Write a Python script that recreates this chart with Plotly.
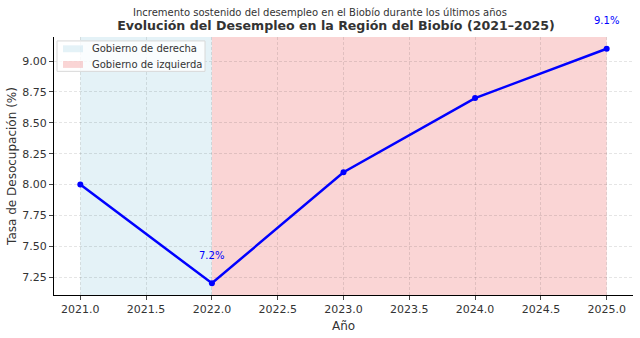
import plotly.graph_objects as go

years = [2021, 2022, 2023, 2024, 2025]
desempleo = [8.0, 7.2, 8.1, 8.7, 9.1]
label_years = [2022, 2025]
label_vals = [7.2, 9.1]

periodos = [
    {"name": "Gobierno de derecha", "x0": 2021, "x1": 2022, "color": "rgba(173,216,230,0.33)"},
    {"name": "Gobierno de izquierda", "x0": 2022, "x1": 2025, "color": "rgba(240,128,128,0.33)"},
]

font = "DejaVu Sans"
txt = "#333"
y_range = [7.105, 9.195]
W, H = 640, 338
ML, MR, MT, MB = 54, 7, 37, 38
pw, ph = W - ML - MR, H - MT - MB


def px(x):
    return (x - ML) / pw


def py(y):
    return (H - MB - y) / ph


fig = go.Figure()

shapes = []
for p in periodos:
    shapes.append(dict(type="rect", xref="x", yref="y domain", x0=p["x0"], x1=p["x1"], y0=0, y1=1,
                       fillcolor=p["color"], line=dict(width=0), layer="below"))

fig.add_trace(go.Scatter(x=years, y=desempleo, mode="lines+markers",
                         line=dict(color="blue", width=2.5), marker=dict(color="blue", size=6),
                         showlegend=False, cliponaxis=False))

annotations = []
for x, v in zip(label_years, label_vals):
    ypaper = (v - y_range[0]) / (y_range[1] - y_range[0])
    annotations.append(dict(x=x, y=ypaper, xref="x", yref="paper", yshift=28, text=f"{v}%", showarrow=False,
                            font=dict(family=font, size=10, color="blue"), yanchor="middle"))
annotations.append(dict(x=px(W / 2), y=py(12), xref="paper", yref="paper",
                        text="Incremento sostenido del desempleo en el Biobío durante los últimos años",
                        showarrow=False, font=dict(family=font, size=10, color=txt), yanchor="middle"))

# manual legend (matplotlib style)
shapes.append(dict(type="rect", xref="paper", yref="paper", x0=px(57), x1=px(205), y0=py(41), y1=py(72),
                   fillcolor="rgba(255,255,255,0.8)", line=dict(color="#d8d8d8", width=1), layer="above"))
for i, p in enumerate(periodos):
    cy = 49 + 16 * i
    shapes.append(dict(type="rect", xref="paper", yref="paper", x0=px(63), x1=px(83), y0=py(cy - 3.5),
                       y1=py(cy + 3.5), fillcolor=p["color"], line=dict(width=0), layer="above"))
    annotations.append(dict(x=px(90), y=py(cy), xref="paper", yref="paper", text=p["name"], showarrow=False,
                            xanchor="left", yanchor="middle", font=dict(family=font, size=10, color=txt)))

fig.update_layout(
    width=W, height=H,
    margin=dict(l=ML, r=MR, t=MT, b=MB),
    paper_bgcolor="white", plot_bgcolor="white",
    title=dict(text="<b>Evolución del Desempleo en la Región del Biobío (2021–2025)</b>",
               x=336 / 640, xanchor="center", y=1 - 26 / 338, yanchor="middle",
               font=dict(family=font, size=12.6, color=txt)),
    shapes=shapes,
    annotations=annotations,
    showlegend=False,
    font=dict(family=font, size=11, color=txt),
)
grid = "rgba(0,0,0,0.10)"
fig.update_xaxes(range=[2020.8, 2025.2], dtick=0.5, tick0=2021, tickformat=".1f",
                 showgrid=True, gridcolor=grid, griddash="3px,2px", gridwidth=1,
                 showline=True, linecolor="black", linewidth=1, ticks="outside", ticklen=4,
                 tickfont=dict(family=font, size=11, color=txt), zeroline=False,
                 title=dict(text="Año", font=dict(family=font, size=12, color=txt), standoff=6))
fig.update_yaxes(range=y_range, dtick=0.25, tick0=7.25, tickformat=".2f",
                 showgrid=True, gridcolor=grid, griddash="3px,2px", gridwidth=1,
                 showline=True, linecolor="black", linewidth=1, ticks="outside", ticklen=4,
                 tickfont=dict(family=font, size=11, color=txt), zeroline=False,
                 title=dict(text="Tasa de Desocupación (%)", font=dict(family=font, size=12, color=txt), standoff=3))

fig.write_html("out.html")
